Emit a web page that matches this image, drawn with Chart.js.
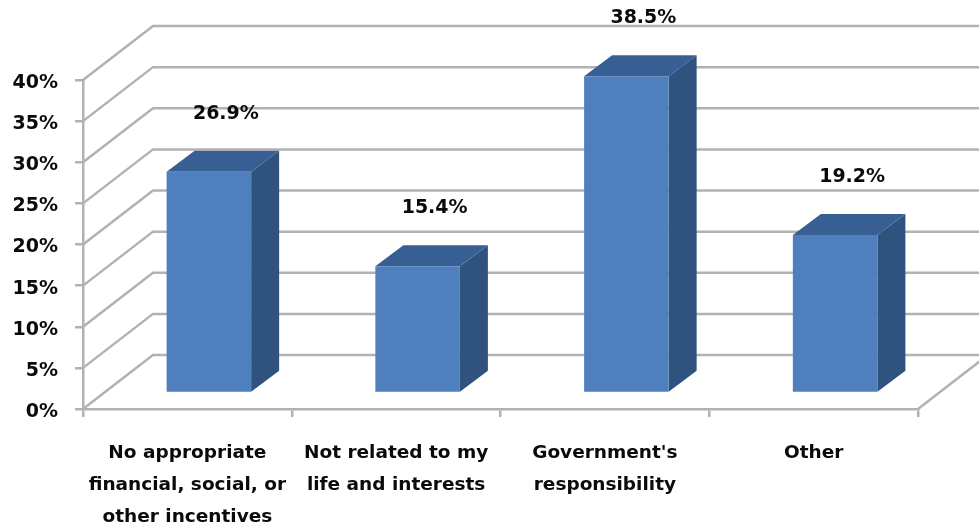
<!DOCTYPE html>
<html>
<head>
<meta charset="utf-8">
<style>
  html, body { margin: 0; padding: 0; background: #fff; overflow: hidden; }
  canvas { display: block; }
</style>
<script src="https://cdn.jsdelivr.net/npm/chart.js@4"></script>
</head>
<body>
<canvas id="barChart" width="979" height="527"></canvas>
<script>
const categories = [
  ['No appropriate', 'financial, social, or', 'other incentives'],
  ['Not related to my', 'life and interests'],
  ["Government's", 'responsibility'],
  ['Other']
];
const values = [26.9, 15.4, 38.5, 19.2];
const valueLabels = ['26.9%', '15.4%', '38.5%', '19.2%'];
const tickValues = [0, 5, 10, 15, 20, 25, 30, 35, 40];

const gridColor = '#b2b2b2';
const fontFamily = "'DejaVu Sans', sans-serif";

// depth of the floor and of the bars, in pixels
const wallDx = 70, wallDy = -54;
const barShiftX = 21.5, barShiftY = -16;
const barDx = 28, barDy = -21;

function fillPoly(ctx, pts, color) {
  ctx.fillStyle = color;
  ctx.beginPath();
  pts.forEach((p, i) => i ? ctx.lineTo(p[0], p[1]) : ctx.moveTo(p[0], p[1]));
  ctx.closePath();
  ctx.fill();
}

const fake3d = {
  id: 'fake3d',
  beforeDatasetsDraw(chart) {
    const { ctx, scales: { x, y } } = chart;
    ctx.save();
    ctx.strokeStyle = gridColor;
    ctx.lineWidth = 2.5;
    // back wall lines and the left side wall
    tickValues.forEach(v => {
      const yp = y.getPixelForValue(v);
      ctx.beginPath();
      ctx.moveTo(x.left, yp);
      ctx.lineTo(x.left + wallDx, yp + wallDy);
      ctx.lineTo(chart.width, yp + wallDy);
      ctx.stroke();
    });
    // right edge of the floor
    const y0 = y.getPixelForValue(0);
    ctx.beginPath();
    ctx.moveTo(x.right, y0);
    ctx.lineTo(x.right + wallDx, y0 + wallDy);
    ctx.stroke();
    ctx.restore();

    // top and side faces of the bars
    chart.getDatasetMeta(0).data.forEach(bar => {
      const l = bar.x - bar.width / 2 + barShiftX;
      const r = bar.x + bar.width / 2 + barShiftX;
      const t = bar.y + barShiftY;
      const b = bar.base + barShiftY;
      fillPoly(ctx, [[r, t], [r + barDx, t + barDy], [r + barDx, b + barDy], [r, b]], '#30527e');
      fillPoly(ctx, [[l, t], [l + barDx, t + barDy], [r + barDx, t + barDy], [r, t]], '#385f94');
    });
  },
  beforeDatasetDraw(chart) {
    chart.ctx.save();
    chart.ctx.translate(barShiftX, barShiftY);
  },
  afterDatasetDraw(chart) {
    chart.ctx.restore();
  },
  afterDraw(chart) {
    const ctx = chart.ctx;
    ctx.save();
    ctx.fillStyle = '#0a0a0a';
    ctx.font = 'bold 19px ' + fontFamily;
    ctx.textAlign = 'center';
    ctx.textBaseline = 'middle';
    chart.getDatasetMeta(0).data.forEach((bar, i) => {
      ctx.fillText(valueLabels[i], bar.x + barShiftX + 17, bar.y + barShiftY - 58);
    });
    ctx.restore();
  }
};

new Chart(document.getElementById('barChart'), {
  type: 'bar',
  data: {
    labels: categories,
    datasets: [{
      data: values,
      backgroundColor: '#4f80bd',
      barPercentage: 0.405,
      categoryPercentage: 1
    }]
  },
  options: {
    responsive: false,
    animation: false,
    layout: { padding: { top: 80, right: 61 } },
    plugins: { legend: { display: false }, tooltip: { enabled: false } },
    scales: {
      x: {
        afterFit: scale => { scale.height = 118; },
        border: { color: gridColor, width: 2.5 },
        grid: { drawOnChartArea: false, color: gridColor, lineWidth: 2.5, tickLength: 8 },
        ticks: {
          color: '#0a0a0a',
          maxRotation: 0,
          padding: 20,
          font: { family: fontFamily, size: 18.5, weight: 'bold', lineHeight: 1.73 }
        }
      },
      y: {
        min: 0,
        max: 40,
        afterFit: scale => { scale.width = 83; },
        afterBuildTicks: scale => { scale.ticks = tickValues.map(v => ({ value: v })); },
        border: { color: gridColor, width: 2.5 },
        grid: { drawOnChartArea: false, color: gridColor, lineWidth: 2.5, tickLength: 8 },
        ticks: {
          color: '#0a0a0a',
          padding: 17,
          labelOffset: 3,
          callback: v => v + '%',
          font: { family: fontFamily, size: 19, weight: 'bold' }
        }
      }
    }
  },
  plugins: [fake3d]
});
</script>
</body>
</html>
